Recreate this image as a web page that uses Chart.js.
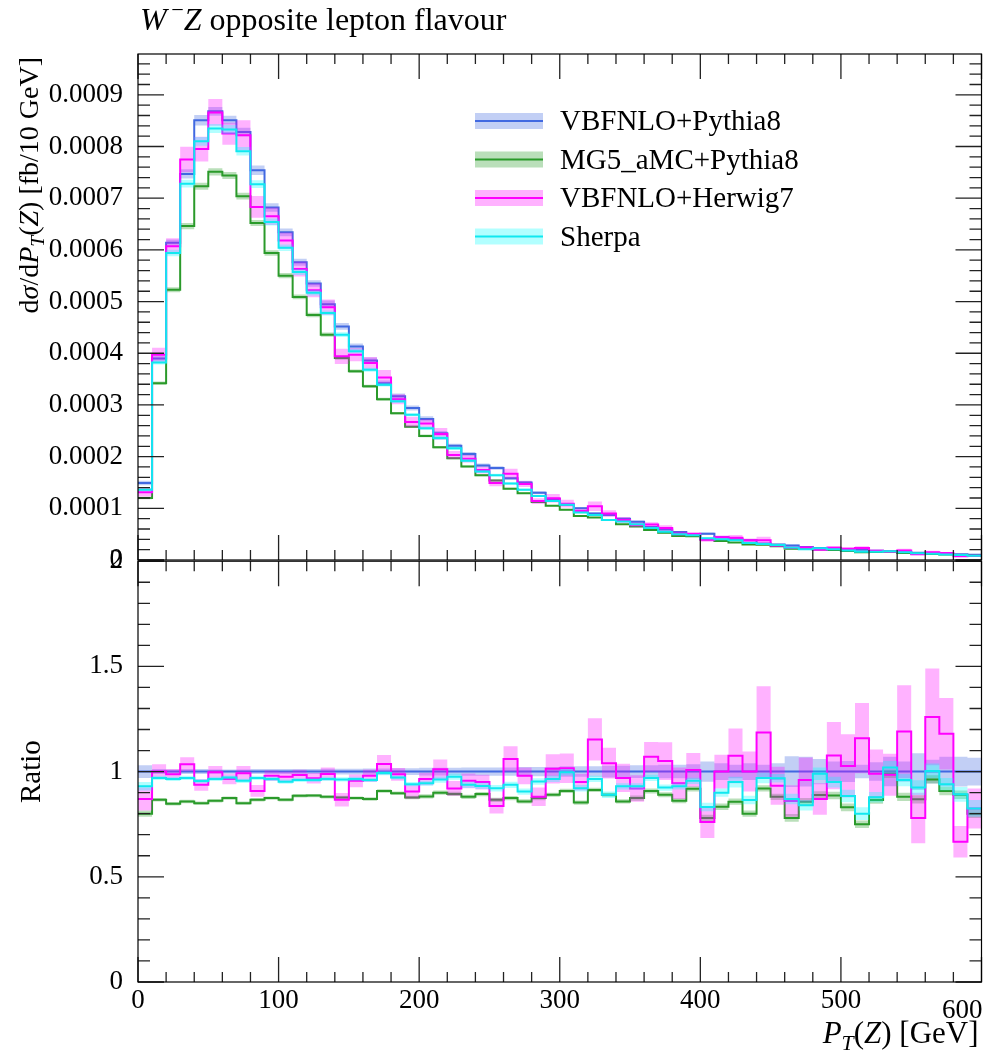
<!DOCTYPE html>
<html>
<head>
<meta charset="utf-8">
<script src="https://cdn.jsdelivr.net/npm/chart.js@4.4.1/dist/chart.umd.min.js"></script>
<style>
  body { margin: 0; background: #fff; width: 1004px; height: 1060px; position: relative; overflow: hidden; }
  canvas { position: absolute; left: 0; }
</style>
</head>
<body>
<canvas id="mainChart" width="1004" height="600" style="top:0"></canvas>
<canvas id="ratioChart" width="1004" height="530" style="top:530px"></canvas>
<script>
// bin edges in GeV (60 bins of 10 GeV)
const binEdges = [0, 10, 20, 30, 40, 50, 60, 70, 80, 90, 100, 110, 120, 130, 140, 150, 160, 170, 180, 190,
  200, 210, 220, 230, 240, 250, 260, 270, 280, 290, 300, 310, 320, 330, 340, 350, 360, 370, 380, 390,
  400, 410, 420, 430, 440, 450, 460, 470, 480, 490, 500, 510, 520, 530, 540, 550, 560, 570, 580, 590, 600];

// dsigma/dPT(Z), in units of 1e-4 fb / 10 GeV
const vbfP8 = [1.49, 3.90, 6.14, 7.47, 8.51, 8.68, 8.51, 8.28, 7.54, 6.82, 6.34, 5.76, 5.35, 4.95, 4.52, 4.13, 3.86, 3.42, 3.17, 2.94,
  2.73, 2.45, 2.21, 2.05, 1.83, 1.78, 1.58, 1.50, 1.30, 1.18, 1.07, 1.00, 0.90, 0.87, 0.80, 0.74, 0.64, 0.59, 0.54, 0.50,
  0.51, 0.44, 0.40, 0.38, 0.32, 0.30, 0.28, 0.25, 0.23, 0.22, 0.21, 0.20, 0.18, 0.165, 0.155, 0.14, 0.12, 0.115, 0.11, 0.10];
const mg5P8 = [1.20, 3.42, 5.23, 6.46, 7.23, 7.51, 7.44, 7.04, 6.52, 5.94, 5.50, 5.09, 4.74, 4.36, 3.91, 3.65, 3.36, 3.11, 2.84, 2.58,
  2.40, 2.18, 1.97, 1.81, 1.64, 1.54, 1.38, 1.29, 1.12, 1.05, 0.97, 0.85, 0.82, 0.775, 0.69, 0.65, 0.58, 0.525, 0.465, 0.46,
  0.40, 0.37, 0.34, 0.30, 0.295, 0.264, 0.22, 0.214, 0.204, 0.195, 0.174, 0.15, 0.156, 0.163, 0.136, 0.12, 0.116, 0.104, 0.098, 0.08];
const vbfH7 = [1.31, 3.97, 6.07, 7.75, 7.95, 8.66, 8.25, 8.22, 6.83, 6.65, 6.18, 5.63, 5.22, 4.89, 3.94, 3.97, 3.81, 3.53, 3.11, 2.67,
  2.64, 2.44, 2.03, 1.96, 1.74, 1.49, 1.67, 1.47, 1.14, 1.195, 1.09, 0.95, 1.04, 0.90, 0.776, 0.68, 0.685, 0.62, 0.51, 0.504,
  0.39, 0.44, 0.43, 0.38, 0.38, 0.28, 0.24, 0.24, 0.20, 0.237, 0.216, 0.232, 0.178, 0.163, 0.185, 0.11, 0.151, 0.136, 0.073, 0.083];
const sherpa = [1.36, 3.82, 5.94, 7.28, 8.10, 8.35, 8.33, 7.91, 7.27, 6.54, 6.04, 5.57, 5.17, 4.78, 4.36, 4.04, 3.68, 3.39, 3.07, 2.81,
  2.55, 2.36, 2.16, 1.92, 1.71, 1.64, 1.48, 1.36, 1.24, 1.14, 1.07, 0.92, 0.87, 0.775, 0.744, 0.69, 0.62, 0.545, 0.50, 0.478,
  0.42, 0.40, 0.38, 0.33, 0.31, 0.29, 0.244, 0.21, 0.228, 0.209, 0.186, 0.16, 0.158, 0.168, 0.149, 0.13, 0.12, 0.108, 0.098, 0.083];

// ratio to VBFNLO+Pythia8
const vbfP8Ratio = [1, 1, 1, 1, 1, 1, 1, 1, 1, 1, 1, 1, 1, 1, 1, 1, 1, 1, 1, 1,
  1, 1, 1, 1, 1, 1, 1, 1, 1, 1, 1, 1, 1, 1, 1, 1, 1, 1, 1, 1,
  1, 1, 1, 1, 1, 1, 1, 1, 1, 1, 1, 1, 1, 1, 1, 1, 1, 1, 1, 1];
const mg5P8Ratio = [0.80, 0.866, 0.847, 0.858, 0.85, 0.861, 0.874, 0.85, 0.866, 0.874, 0.866, 0.885, 0.886, 0.88, 0.877, 0.874, 0.87, 0.908, 0.897, 0.877,
  0.882, 0.90, 0.894, 0.88, 0.893, 0.866, 0.874, 0.858, 0.874, 0.89, 0.908, 0.853, 0.913, 0.89, 0.858, 0.874, 0.908, 0.89, 0.861, 0.918,
  0.78, 0.833, 0.857, 0.80, 0.92, 0.88, 0.78, 0.857, 0.889, 0.886, 0.83, 0.75, 0.865, 0.99, 0.88, 0.868, 0.963, 0.908, 0.89, 0.80];
const vbfH7Ratio = [0.87, 1.00, 0.987, 1.035, 0.937, 0.997, 0.965, 0.992, 0.908, 0.98, 0.976, 0.984, 0.968, 0.989, 0.866, 0.956, 0.98, 1.036, 0.987, 0.906,
  0.965, 1.011, 0.92, 0.956, 0.95, 0.837, 1.06, 0.98, 0.88, 1.013, 1.016, 0.95, 1.153, 1.04, 0.97, 0.92, 1.07, 1.05, 0.945, 1.008,
  0.76, 1.00, 1.075, 1.0, 1.186, 0.933, 0.86, 0.96, 0.87, 1.076, 1.027, 1.159, 0.99, 0.985, 1.19, 0.78, 1.26, 1.18, 0.667, 0.825];
const sherpaRatio = [0.93, 0.97, 0.965, 0.97, 0.955, 0.965, 0.972, 0.956, 0.97, 0.965, 0.952, 0.96, 0.96, 0.965, 0.963, 0.965, 0.96, 0.993, 0.972, 0.94,
  0.945, 0.962, 0.976, 0.937, 0.932, 0.921, 0.937, 0.905, 0.953, 0.965, 0.997, 0.921, 0.965, 0.89, 0.93, 0.93, 0.97, 0.924, 0.93, 0.956,
  0.832, 0.90, 0.95, 0.865, 0.97, 0.968, 0.87, 0.84, 0.99, 0.95, 0.884, 0.80, 0.878, 1.02, 0.96, 0.924, 1.003, 0.94, 0.892, 0.825];

// uncertainty band half-widths, in ratio units
const vbfP8Band = [0.03, 0.012, 0.01, 0.012, 0.012, 0.01, 0.01, 0.01, 0.012, 0.012, 0.012, 0.012, 0.012, 0.014, 0.014, 0.014, 0.015, 0.015, 0.016, 0.016,
  0.018, 0.018, 0.018, 0.02, 0.02, 0.02, 0.02, 0.022, 0.022, 0.022, 0.025, 0.025, 0.025, 0.028, 0.028, 0.03, 0.03, 0.032, 0.032, 0.035,
  0.048, 0.04, 0.032, 0.04, 0.032, 0.04, 0.073, 0.071, 0.06, 0.048, 0.05, 0.032, 0.044, 0.07, 0.048, 0.087, 0.056, 0.071, 0.071, 0.066];
const mg5P8Band = [0.015, 0.008, 0.008, 0.008, 0.008, 0.008, 0.008, 0.008, 0.008, 0.008, 0.008, 0.008, 0.008, 0.008, 0.008, 0.008, 0.008, 0.008, 0.008, 0.008,
  0.01, 0.01, 0.01, 0.01, 0.01, 0.01, 0.01, 0.01, 0.01, 0.01, 0.01, 0.01, 0.01, 0.01, 0.01, 0.012, 0.012, 0.012, 0.012, 0.012,
  0.015, 0.015, 0.015, 0.015, 0.015, 0.015, 0.018, 0.018, 0.018, 0.018, 0.018, 0.018, 0.018, 0.02, 0.02, 0.02, 0.02, 0.02, 0.02, 0.02];
const vbfH7Band = [0.055, 0.035, 0.025, 0.033, 0.028, 0.03, 0.025, 0.035, 0.028, 0.025, 0.025, 0.025, 0.025, 0.03, 0.032, 0.03, 0.03, 0.043, 0.03, 0.035,
  0.03, 0.047, 0.035, 0.035, 0.035, 0.036, 0.06, 0.04, 0.044, 0.07, 0.07, 0.04, 0.10, 0.073, 0.067, 0.063, 0.071, 0.09, 0.075, 0.08,
  0.075, 0.08, 0.13, 0.095, 0.22, 0.09, 0.075, 0.107, 0.075, 0.16, 0.15, 0.167, 0.115, 0.10, 0.22, 0.12, 0.23, 0.17, 0.075, 0.095];
const sherpaBand = [0.02, 0.01, 0.01, 0.01, 0.01, 0.01, 0.01, 0.01, 0.01, 0.01, 0.01, 0.01, 0.01, 0.01, 0.01, 0.01, 0.01, 0.01, 0.01, 0.01,
  0.012, 0.015, 0.015, 0.015, 0.015, 0.015, 0.015, 0.015, 0.015, 0.015, 0.015, 0.015, 0.015, 0.015, 0.015, 0.015, 0.015, 0.015, 0.015, 0.015,
  0.02, 0.02, 0.025, 0.02, 0.025, 0.02, 0.025, 0.025, 0.03, 0.025, 0.03, 0.03, 0.025, 0.03, 0.03, 0.035, 0.035, 0.03, 0.035, 0.04];

const mainTicks = [0, 1, 2, 3, 4, 5, 6, 7, 8, 9];
const ratioTicks = [0, 0.5, 1, 1.5, 2];
const xTicks = [0, 100, 200, 300, 400, 500, 600];

const series = [
  { name: 'VBFNLO+Pythia8', main: vbfP8, ratio: vbfP8Ratio, band: vbfP8Band, line: '#4169e1', fill: 'rgba(65,105,225,0.32)' },
  { name: 'MG5_aMC+Pythia8', main: mg5P8, ratio: mg5P8Ratio, band: mg5P8Band, line: '#2a9a2a', fill: 'rgba(40,155,40,0.32)' },
  { name: 'VBFNLO+Herwig7', main: vbfH7, ratio: vbfH7Ratio, band: vbfH7Band, line: '#ff00ff', fill: 'rgba(255,0,255,0.3)' },
  { name: 'Sherpa', main: sherpa, ratio: sherpaRatio, band: sherpaBand, line: '#10e8f0', fill: 'rgba(0,255,255,0.3)' },
];

const FONT = '"Liberation Serif", "DejaVu Serif", serif';

// point i sits on the lower edge of bin i; 'before' stepping holds it until the next edge
const steps = (vals) => binEdges.map((x, i) => ({ x: x, y: vals[Math.min(i, vals.length - 1)] }));

const buildSets = (useRatio) => {
  const sets = [];
  let order = 100;
  series.forEach(s => {
    const lo = [], hi = [], mid = [];
    s.main.forEach((v, i) => {
      const c = useRatio ? s.ratio[i] : v;
      const d = useRatio ? s.band[i] : v * s.band[i] / s.ratio[i];
      lo.push(c - d);
      hi.push(c + d);
      mid.push(c);
    });
    const base = { stepped: 'before', pointRadius: 0, borderWidth: 0, borderColor: 'transparent' };
    sets.push({ ...base, data: steps(lo), fill: false, order: order-- });
    sets.push({ ...base, data: steps(hi), fill: '-1', backgroundColor: s.fill, order: order-- });
    sets.push({ data: steps(mid), stepped: 'before', pointRadius: 0, borderWidth: 2, borderColor: s.line, fill: false, order: order-- });
  });
  return sets;
};

// text with italic / sub / sup pieces
const runFont = (r, size) => (r.it ? 'italic ' : '') + (r.sub || r.sup ? size * 0.7 : size) + 'px ' + FONT;
const drawRuns = (ctx, runs, x, y, size, align) => {
  let w = 0;
  runs.forEach(r => { ctx.font = runFont(r, size); r.w = ctx.measureText(r.t).width; w += r.w; });
  let cx = align === 'right' ? x - w : (align === 'center' ? x - w / 2 : x);
  ctx.textAlign = 'left';
  ctx.textBaseline = 'alphabetic';
  runs.forEach(r => {
    ctx.font = runFont(r, size);
    const dy = r.sub ? size * 0.22 : (r.sup ? -size * 0.4 : 0);
    ctx.fillText(r.t, cx, y + dy);
    cx += r.w;
  });
};

// frame and inward tick marks
const frameTicks = (yMinor, yMajor, yMax) => ({
  id: 'frameTicks',
  afterDraw(chart) {
    const { ctx, chartArea: a, scales } = chart;
    ctx.save();
    ctx.strokeStyle = '#222';
    ctx.lineWidth = 1.3;
    ctx.beginPath();
    for (let k = 0; k * 20 <= 600; k++) {
      const v = k * 20;
      const px = scales.x.getPixelForValue(v);
      const len = v % 100 === 0 ? 25 : 10;
      ctx.moveTo(px, a.bottom); ctx.lineTo(px, a.bottom - len);
      ctx.moveTo(px, a.top); ctx.lineTo(px, a.top + len);
    }
    for (let k = 0; k * yMinor <= yMax + 1e-9; k++) {
      const v = k * yMinor;
      const py = scales.y.getPixelForValue(v);
      const major = Math.abs(v / yMajor - Math.round(v / yMajor)) < 1e-6;
      const len = major ? 26 : 12;
      ctx.moveTo(a.left, py); ctx.lineTo(a.left + len, py);
      ctx.moveTo(a.right, py); ctx.lineTo(a.right - len, py);
    }
    ctx.stroke();
    ctx.strokeStyle = '#000';
    ctx.lineWidth = 1.2;
    ctx.strokeRect(a.left, a.top, a.right - a.left, a.bottom - a.top);
    ctx.restore();
  }
});

const mainDecor = {
  id: 'mainDecor',
  afterDraw(chart) {
    const ctx = chart.ctx;
    ctx.save();
    ctx.fillStyle = '#000';
    drawRuns(ctx, [{ t: 'W', it: true }, { t: '\u2009\u2212', sup: true }, { t: 'Z', it: true }, { t: ' opposite lepton flavour' }], 140, 30, 32, 'left');
    ctx.save();
    ctx.translate(38, 57);
    ctx.rotate(-Math.PI / 2);
    drawRuns(ctx, [{ t: 'd' }, { t: '\u03c3', it: true }, { t: '/d' }, { t: 'P', it: true }, { t: 'T', it: true, sub: true },
      { t: '(' }, { t: 'Z', it: true }, { t: ') [fb/10 GeV]' }], 0, 0, 28, 'right');
    ctx.restore();
    // legend
    series.forEach((s, i) => {
      const cy = 121 + i * 38.5;
      ctx.fillStyle = s.fill;
      ctx.fillRect(475, cy - 8, 68, 16);
      ctx.strokeStyle = s.line;
      ctx.lineWidth = 2;
      ctx.beginPath();
      ctx.moveTo(475, cy); ctx.lineTo(543, cy);
      ctx.stroke();
      ctx.fillStyle = '#000';
      ctx.font = '29px ' + FONT;
      ctx.textAlign = 'left';
      ctx.textBaseline = 'alphabetic';
      ctx.fillText(s.name, 560, cy + 9);
    });
    ctx.restore();
  }
};

const ratioDecor = {
  id: 'ratioDecor',
  afterDraw(chart) {
    const ctx = chart.ctx;
    const a = chart.chartArea;
    ctx.save();
    ctx.fillStyle = '#000';
    ctx.font = '27px ' + FONT;
    ctx.textAlign = 'right';
    ctx.textBaseline = 'middle';
    ctx.fillText(String(xTicks[xTicks.length - 1]), a.right + 1, a.bottom + 29);
    drawRuns(ctx, [{ t: 'P', it: true }, { t: 'T', it: true, sub: true }, { t: '(' }, { t: 'Z', it: true }, { t: ') [GeV]' }],
      a.right - 3, 513, 31, 'right');
    ctx.save();
    ctx.translate(40, chart.scales.y.getPixelForValue(1));
    ctx.rotate(-Math.PI / 2);
    drawRuns(ctx, [{ t: 'Ratio' }], 0, 0, 29, 'center');
    ctx.restore();
    ctx.restore();
  }
};

const yAxisBase = (min, max, ticks, fmt) => ({
  type: 'linear',
  min: min,
  max: max,
  afterFit: (s) => { s.width = 138; },
  afterBuildTicks: (s) => { s.ticks = ticks.map(v => ({ value: v })); },
  grid: { display: false, drawTicks: false },
  border: { display: false },
  ticks: { color: '#000', font: { family: FONT, size: 27 }, padding: 15, callback: fmt },
});

new Chart(document.getElementById('mainChart'), {
  type: 'line',
  data: { datasets: buildSets(false) },
  options: {
    responsive: false,
    animation: false,
    devicePixelRatio: 1,
    events: [],
    layout: { padding: { left: 0, right: 22.5, top: 54, bottom: 40 } },
    plugins: { legend: { display: false }, tooltip: { enabled: false } },
    scales: {
      x: { type: 'linear', min: 0, max: 600, display: false },
      y: yAxisBase(0, 9.79, mainTicks, (v) => v === 0 ? '0' : (v / 10000).toFixed(4)),
    },
  },
  plugins: [frameTicks(0.2, 1, 9.79), mainDecor],
});

new Chart(document.getElementById('ratioChart'), {
  type: 'line',
  data: { datasets: buildSets(true) },
  options: {
    responsive: false,
    animation: false,
    devicePixelRatio: 1,
    events: [],
    layout: { padding: { left: 0, right: 22.5, top: 30, bottom: 0 } },
    plugins: { legend: { display: false }, tooltip: { enabled: false } },
    scales: {
      x: {
        type: 'linear', min: 0, max: 600,
        afterFit: (s) => { s.height = 78; },
        afterBuildTicks: (s) => { s.ticks = xTicks.map(v => ({ value: v })); },
        grid: { display: false, drawTicks: false },
        border: { display: false },
        ticks: { color: '#000', font: { family: FONT, size: 27 }, padding: 3, maxRotation: 0,
          callback: (v) => v === 600 ? '' : String(v) },
      },
      y: yAxisBase(0, 2, ratioTicks, (v) => String(v)),
    },
  },
  plugins: [frameTicks(0.1, 0.5, 2), ratioDecor],
});
</script>
</body>
</html>
